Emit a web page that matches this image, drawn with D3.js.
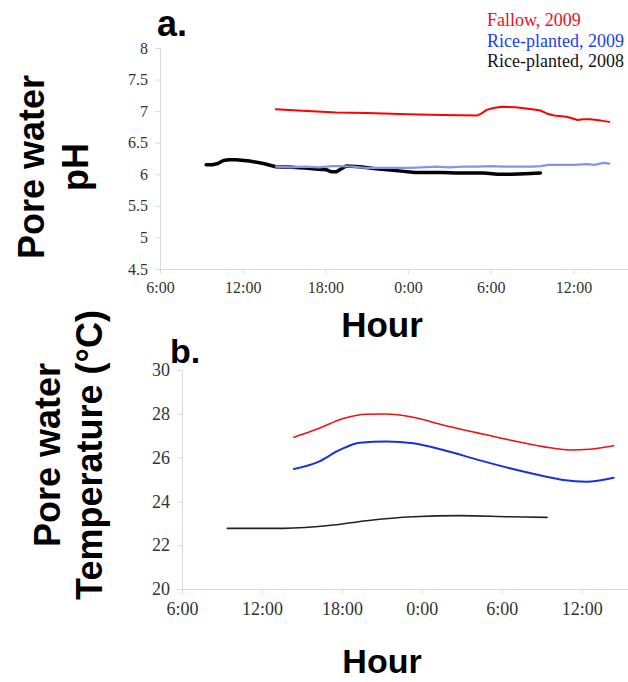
<!DOCTYPE html>
<html><head><meta charset="utf-8">
<script src="https://cdn.jsdelivr.net/npm/d3@7"></script>
<style>
body{margin:0;background:#fff;}
svg{display:block;}
</style></head>
<body>
<svg id="c" width="628" height="682"></svg>
<script>
// ---- data (hours counted from 0:00 of day 1; 24 = 0:00 next day) ----
const xTicks = [6, 12, 18, 24, 30, 36];
const phTicks = [4.5, 5, 5.5, 6, 6.5, 7, 7.5, 8];
const tTicks = [20, 22, 24, 26, 28, 30];
const seriesNames = ["Fallow, 2009", "Rice-planted, 2009", "Rice-planted, 2008"];

const phFallowHours = [14.4, 16.0, 18.8, 21.0, 24.0, 26.5, 29.0, 29.3, 29.7, 30.2, 30.8, 31.8, 33.0, 33.6, 34.1, 34.6, 35.5, 36.0, 36.3, 36.7, 37.2, 38.0, 38.6];
const phFallow      = [7.03, 7.01, 6.98, 6.97, 6.95, 6.94, 6.93, 6.96, 7.02, 7.05, 7.07, 7.06, 7.03, 7.01, 6.96, 6.93, 6.91, 6.88, 6.86, 6.87, 6.87, 6.85, 6.83];

const phRice09Hours = [14.4, 15.5, 16.5, 17.5, 18.5, 19.1, 20.0, 21.0, 22.0, 23.0, 24.0, 25.0, 26.0, 27.0, 28.0, 29.0, 30.0, 31.0, 32.0, 33.0, 33.6, 34.2, 35.0, 36.0, 37.0, 37.5, 38.2, 38.6];
const phRice09      = [6.12, 6.11, 6.12, 6.11, 6.13, 6.13, 6.12, 6.10, 6.10, 6.10, 6.10, 6.11, 6.12, 6.11, 6.12, 6.12, 6.13, 6.12, 6.12, 6.12, 6.13, 6.15, 6.15, 6.15, 6.16, 6.15, 6.18, 6.17];

const phRice08Hours = [9.35, 9.8, 10.2, 10.6, 11.0, 11.5, 12.5, 13.5, 14.4, 15.5, 16.5, 17.5, 18.1, 18.4, 18.8, 19.1, 19.5, 20.5, 21.5, 22.5, 23.5, 24.5, 25.5, 26.5, 27.5, 28.5, 29.5, 30.5, 31.5, 32.5, 33.6];
const phRice08      = [6.15, 6.15, 6.17, 6.22, 6.23, 6.23, 6.21, 6.17, 6.12, 6.11, 6.10, 6.08, 6.07, 6.04, 6.04, 6.08, 6.13, 6.12, 6.09, 6.07, 6.05, 6.03, 6.03, 6.03, 6.02, 6.02, 6.02, 6.00, 6.00, 6.01, 6.02];

const tFallowHours = [14.4, 16.1, 18.1, 19.85, 21.35, 23.35, 25.6, 28.1, 30.6, 33.1, 35.1, 36.6, 38.4];
const tFallow      = [26.93, 27.29, 27.79, 27.98, 27.99, 27.84, 27.49, 27.14, 26.8, 26.5, 26.35, 26.38, 26.54];

const tRice09Hours = [14.4, 16.1, 17.85, 19.35, 21.35, 23.35, 25.6, 28.1, 30.6, 33.1, 34.6, 36.35, 38.4];
const tRice09      = [25.48, 25.77, 26.35, 26.68, 26.73, 26.65, 26.35, 25.92, 25.51, 25.16, 24.98, 24.9, 25.08];

const tRice08Hours = [9.4, 13.6, 17.35, 19.85, 23.35, 26.85, 30.6, 33.4];
const tRice08      = [22.77, 22.77, 22.92, 23.12, 23.30, 23.35, 23.30, 23.27];

// ---- drawing ----
const svg = d3.select("#c");
const fmtHour = h => (h % 24) + ":00";
const zip = (hs, vs) => hs.map((h, i) => ({h, v: vs[i]}));

function panel(opt) {
  const x = d3.scaleLinear().domain([6, 40]).range([opt.x0, opt.x1]);
  const y = d3.scaleLinear().domain(opt.yDomain).range([opt.y1, opt.y0]);
  const g = svg.append("g");

  const ya = g.append("g").attr("transform", `translate(${opt.x0},0)`)
    .call(d3.axisLeft(y).tickValues(opt.yTicks).tickSize(5).tickPadding(7).tickFormat(d => d));
  const xa = g.append("g").attr("transform", `translate(0,${opt.y1})`)
    .call(d3.axisBottom(x).tickValues(xTicks).tickSize(5).tickPadding(opt.xPad).tickFormat(fmtHour));
  [ya, xa].forEach(a => {
    a.select(".domain").attr("stroke", "#d9d9d9");
    a.selectAll(".tick line").attr("stroke", "#d9d9d9");
    a.selectAll(".tick text").attr("fill", "#333")
      .style("font-family", "'Liberation Serif','Times New Roman',serif")
      .style("font-size", opt.fs + "px");
  });

  opt.series.forEach(s => {
    g.append("path").datum(s.data)
      .attr("fill", "none").attr("stroke", s.color).attr("stroke-width", s.w)
      .attr("stroke-linejoin", "round").attr("stroke-linecap", "round")
      .attr("d", d3.line().x(d => x(d.h)).y(d => y(d.v)).curve(opt.curve));
  });
}

panel({
  x0: 160, x1: 628.6, y0: 48, y1: 269, yDomain: [4.5, 8], yTicks: phTicks, fs: 16, xPad: 8,
  curve: d3.curveLinear,
  series: [
    {data: zip(phRice08Hours, phRice08), color: "#000", w: 3.5},
    {data: zip(phRice09Hours, phRice09), color: "#8494ee", w: 2.2},
    {data: zip(phFallowHours, phFallow), color: "#ff0000", w: 2}
  ]
});

panel({
  x0: 182, x1: 635, y0: 370, y1: 589, yDomain: [20, 30], yTicks: tTicks, fs: 18, xPad: 8,
  curve: d3.curveMonotoneX,
  series: [
    {data: zip(tRice08Hours, tRice08), color: "#222", w: 1.6},
    {data: zip(tRice09Hours, tRice09), color: "#1433dd", w: 2},
    {data: zip(tFallowHours, tFallow), color: "#ee1111", w: 1.6}
  ]
});

// panel letters
const bold = "'Liberation Sans',Arial,sans-serif";
svg.append("text").attr("x", 157).attr("y", 36).text("a.")
  .style("font-family", bold).style("font-weight", "bold").style("font-size", "36px");
svg.append("text").attr("x", 170).attr("y", 363).text("b.")
  .style("font-family", bold).style("font-weight", "bold").style("font-size", "34px");

// axis titles
[[382, 337, 35], [382, 673, 34]].forEach(([cx, cy, fs]) => {
  svg.append("text").attr("x", cx).attr("y", cy).attr("text-anchor", "middle").text("Hour")
    .style("font-family", bold).style("font-weight", "bold").style("font-size", fs + "px");
});
function yTitle(lines, cy) {
  lines.forEach(([t, bx]) => {
    svg.append("text").attr("transform", `translate(${bx},${cy}) rotate(-90)`)
      .attr("text-anchor", "middle").text(t)
      .style("font-family", bold).style("font-weight", "bold").style("font-size", "36px");
  });
}
yTitle([["Pore water", 44], ["pH", 88]], 167);
yTitle([["Pore water", 60], ["Temperature (\u00B0C)", 102]], 455);

// legend
const legColors = ["#e8101a", "#1a3ee8", "#111"];
seriesNames.forEach((n, i) => {
  svg.append("text").attr("x", 487).attr("y", 26 + i * 20.7).text(n)
    .attr("fill", legColors[i])
    .style("font-family", "'Liberation Serif','Times New Roman',serif").style("font-size", "18px");
});
</script>
</body></html>
